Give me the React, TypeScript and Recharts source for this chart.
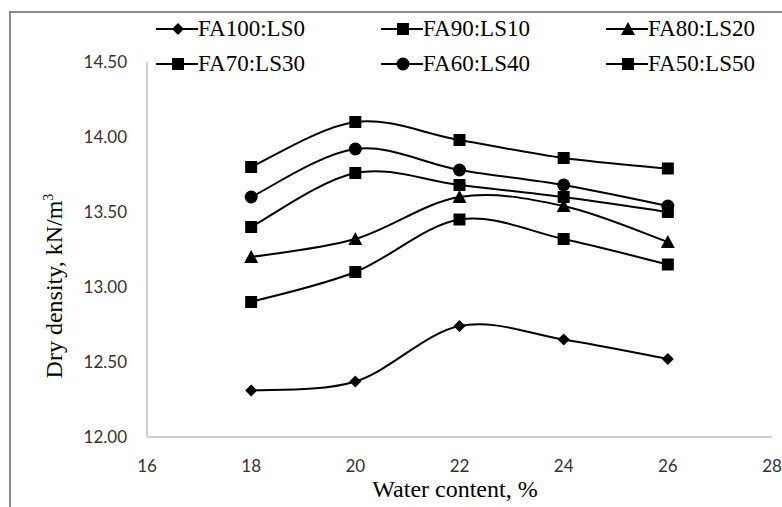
import React from 'react';
import { LineChart, Line, XAxis, YAxis } from 'recharts';

const waterContent = [18, 20, 22, 24, 26];
const seriesNames = ['FA100:LS0', 'FA90:LS10', 'FA80:LS20', 'FA70:LS30', 'FA60:LS40', 'FA50:LS50'];
const fa100ls0 = [12.31, 12.37, 12.74, 12.65, 12.52];
const fa90ls10 = [12.9, 13.1, 13.45, 13.32, 13.15];
const fa80ls20 = [13.2, 13.32, 13.6, 13.54, 13.3];
const fa70ls30 = [13.4, 13.76, 13.68, 13.6, 13.5];
const fa60ls40 = [13.6, 13.92, 13.78, 13.68, 13.54];
const fa50ls50 = [13.8, 14.1, 13.98, 13.86, 13.79];
const markerShapes = ['diamond', 'square', 'triangle', 'square', 'circle', 'square'];
const xTicks = [16, 18, 20, 22, 24, 26, 28];
const yTicks = [12, 12.5, 13, 13.5, 14, 14.5];

const allSeries = [fa100ls0, fa90ls10, fa80ls20, fa70ls30, fa60ls40, fa50ls50];

const data = waterContent.map((w, i) => {
  const row: Record<string, number> = { w };
  seriesNames.forEach((name, s) => {
    row[name] = allSeries[s][i];
  });
  return row;
});

const serif = '"Liberation Serif", "Times New Roman", serif';
const tickFont = 'Lato, "Open Sans", sans-serif';

// excel-style smoothing (catmull-rom through the points)
const smoothCurve = (context: any) => {
  let pts: number[][] = [];
  return {
    areaStart() {},
    areaEnd() {},
    lineStart() {
      pts = [];
    },
    point(x: number, y: number) {
      pts.push([+x, +y]);
    },
    lineEnd() {
      if (!pts.length) return;
      context.moveTo(pts[0][0], pts[0][1]);
      for (let i = 0; i < pts.length - 1; i++) {
        const p0 = pts[Math.max(i - 1, 0)];
        const p1 = pts[i];
        const p2 = pts[i + 1];
        const p3 = pts[Math.min(i + 2, pts.length - 1)];
        context.bezierCurveTo(
          p1[0] + (p2[0] - p0[0]) / 6,
          p1[1] + (p2[1] - p0[1]) / 6,
          p2[0] - (p3[0] - p1[0]) / 6,
          p2[1] - (p3[1] - p1[1]) / 6,
          p2[0],
          p2[1]
        );
      }
    },
  };
};

const Marker = ({ shape, cx, cy }: { shape: string; cx: number; cy: number }) => {
  if (shape === 'square') return <rect x={cx - 6} y={cy - 6} width={12} height={12} fill="#000" />;
  if (shape === 'circle') return <circle cx={cx} cy={cy} r={6.5} fill="#000" />;
  if (shape === 'triangle')
    return <polygon points={`${cx},${cy - 7} ${cx + 7},${cy + 6} ${cx - 7},${cy + 6}`} fill="#000" />;
  return <polygon points={`${cx},${cy - 6} ${cx + 6},${cy} ${cx},${cy + 6} ${cx - 6},${cy}`} fill="#000" />;
};

const makeDot = (shape: string) => (props: any) => {
  const { cx, cy, key } = props;
  if (cx == null || cy == null) return <g key={key} />;
  return <Marker key={key} shape={shape} cx={cx} cy={cy} />;
};

const LegendBox = () => (
  <div
    style={{
      position: 'absolute',
      left: 156,
      top: 15,
      display: 'grid',
      gridTemplateColumns: 'repeat(3, 225px)',
      rowGap: 7,
      fontFamily: serif,
      fontSize: 23,
      lineHeight: '28px',
      color: '#000',
    }}
  >
    {seriesNames.map((name, i) => (
      <div key={name} style={{ display: 'flex', alignItems: 'center', height: 28 }}>
        <svg width={42} height={20} style={{ marginRight: 0 }}>
          <line x1={0} y1={10} x2={42} y2={10} stroke="#000" strokeWidth={2} />
          <Marker shape={markerShapes[i]} cx={22} cy={10} />
        </svg>
        <span>{name}</span>
      </div>
    ))}
  </div>
);

const App = () => {
  return (
    <div style={{ position: 'absolute', left: 0, top: 0, width: 782, height: 507, background: '#fff', overflow: 'hidden' }}>
      <div
        style={{
          position: 'absolute',
          left: 9,
          top: 11,
          width: 900,
          height: 600,
          borderTop: '2px solid #8a8a8a',
          borderLeft: '2px solid #8a8a8a',
        }}
      />
      <LineChart width={782} height={507} data={data} margin={{ top: 62, right: 10, bottom: 0, left: 0 }}>
        <XAxis
          dataKey="w"
          type="number"
          domain={[16, 28]}
          ticks={xTicks}
          axisLine={{ stroke: '#bfbfbf', strokeWidth: 1.5 }}
          tickLine={false}
          tickSize={0}
          tickMargin={23}
          height={70}
          tick={{ fontFamily: tickFont, fontSize: 17, fill: '#333' }}
          label={() => (
            <text x={455} y={497} textAnchor="middle" fontFamily={serif} fontSize={24} fill="#000">
              Water content, %
            </text>
          )}
        />
        <YAxis
          type="number"
          domain={[12, 14.5]}
          ticks={yTicks}
          width={147}
          axisLine={{ stroke: '#bfbfbf', strokeWidth: 1.5 }}
          tickLine={false}
          tickSize={0}
          tickMargin={20}
          tickFormatter={(v: number) => v.toFixed(2)}
          tick={{ fontFamily: tickFont, fontSize: 17, fill: '#333' }}
          label={() => (
            <text
              x={0}
              y={0}
              transform="translate(62, 286) rotate(-90)"
              textAnchor="middle"
              fontFamily={serif}
              fontSize={24}
              fill="#000"
            >
              Dry density, kN/m<tspan dy={-9} fontSize={14}>3</tspan>
            </text>
          )}
        />
        {seriesNames.map((name, i) => (
          <Line
            key={name}
            dataKey={name}
            type={smoothCurve as any}
            stroke="#000"
            strokeWidth={2}
            dot={makeDot(markerShapes[i])}
            activeDot={false}
            isAnimationActive={false}
          />
        ))}
      </LineChart>
      <LegendBox />
    </div>
  );
};

export default App;
